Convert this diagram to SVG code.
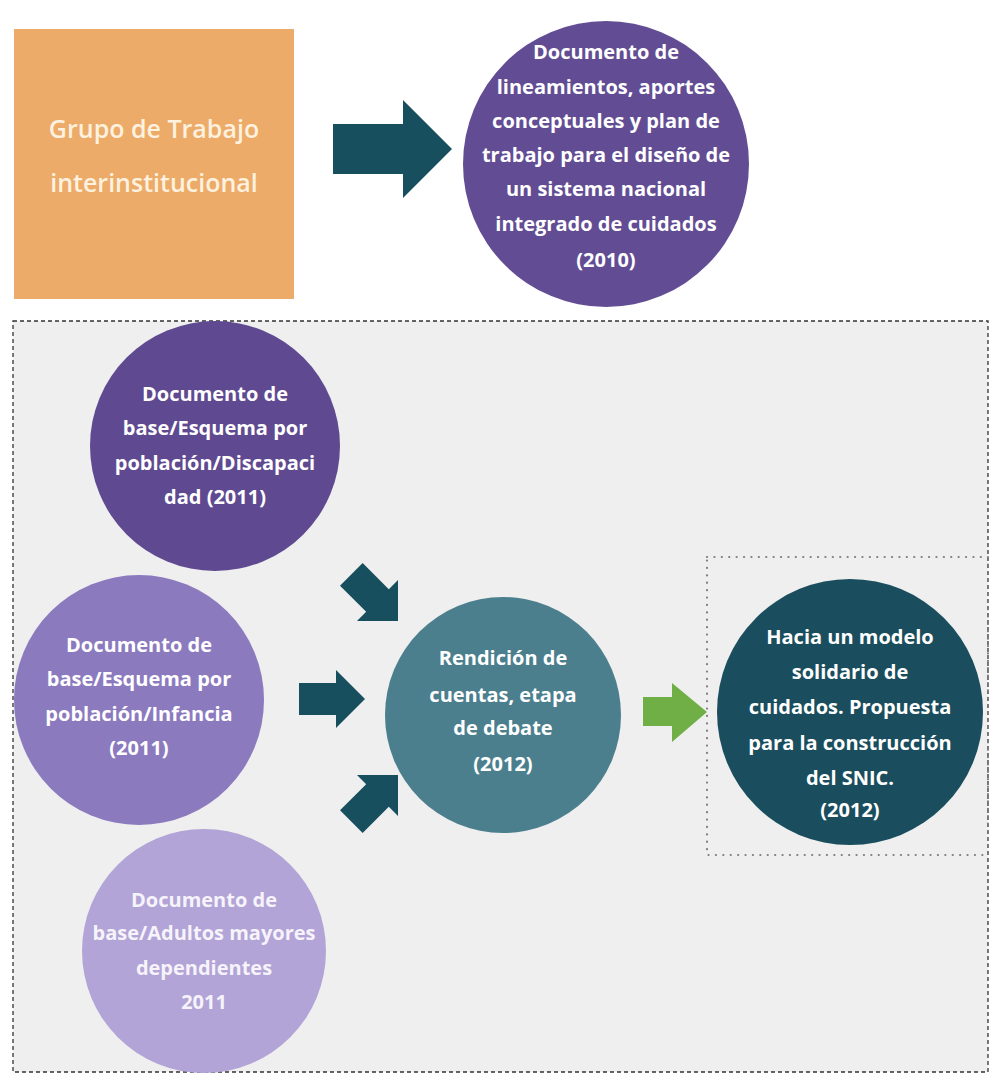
<svg xmlns="http://www.w3.org/2000/svg" width="989" height="1074" viewBox="0 0 989 1074">
<style>
  .t { font-family: "Open Sans", Lato, "Liberation Sans", sans-serif; font-weight: bold; font-size: 20px; text-anchor: middle; fill: #FFFFFF; }
  .big { font-size: 25px; font-weight: 600; fill: #FDF1DF; }
  .pale { fill: #F6F3FB; }
  .arr { fill: #184F5E; }
  .garr { fill: #6FAF46; }
</style>
<defs>
  <path id="ar" d="M -66,-16 L -29,-16 L -29,-29 L 0,0 L -29,29 L -29,16 L -66,16 Z"/>
</defs>
<rect x="0" y="0" width="989" height="1074" fill="#FFFFFF"/>
<g id="frame">
  <rect x="13" y="321" width="975" height="751" fill="#EFEFEF" stroke="#333333" stroke-width="1.3" stroke-dasharray="4,3"/>
  <rect x="707" y="557" width="281" height="298" fill="none" stroke="#7E7E7E" stroke-width="2.2" stroke-dasharray="0.1,7.3" stroke-linecap="round"/>
</g>
<g id="grupo">
  <rect x="14" y="29" width="280" height="270" fill="#EDAB69"/>
  <text class="t big" x="154" y="138">Grupo de Trabajo</text>
  <text class="t big" x="154" y="192">interinstitucional</text>
</g>
<g id="doc2010">
  <circle cx="606" cy="164" r="143" fill="#624D94"/>
  <text class="t" x="606" y="59">Documento de</text>
  <text class="t" x="606" y="94">lineamientos, aportes</text>
  <text class="t" x="606" y="128">conceptuales y plan de</text>
  <text class="t" x="606" y="162">trabajo para el diseño de</text>
  <text class="t" x="606" y="196">un sistema nacional</text>
  <text class="t" x="606" y="231">integrado de cuidados</text>
  <text class="t" x="606" y="267">(2010)</text>
</g>
<g id="discapacidad">
  <circle cx="215" cy="446" r="125" fill="#5F4A91"/>
  <text class="t" x="215" y="401">Documento de</text>
  <text class="t" x="215" y="435">base/Esquema por</text>
  <text class="t" x="215" y="470">población/Discapaci</text>
  <text class="t" x="215" y="504">dad (2011)</text>
</g>
<g id="infancia">
  <circle cx="139" cy="700" r="125" fill="#8C7ABF"/>
  <text class="t" x="139" y="652">Documento de</text>
  <text class="t" x="139" y="686">base/Esquema por</text>
  <text class="t" x="139" y="721">población/Infancia</text>
  <text class="t" x="139" y="755">(2011)</text>
</g>
<g id="adultos">
  <circle cx="204" cy="951" r="122" fill="#B2A4D6"/>
  <text class="t pale" x="204" y="907">Documento de</text>
  <text class="t pale" x="204" y="940">base/Adultos mayores</text>
  <text class="t pale" x="204" y="975">dependientes</text>
  <text class="t pale" x="204" y="1009">2011</text>
</g>
<g id="rendicion">
  <circle cx="503" cy="715" r="118" fill="#4B7F8E"/>
  <text class="t" x="503" y="665">Rendición de</text>
  <text class="t" x="503" y="702">cuentas, etapa</text>
  <text class="t" x="503" y="735">de debate</text>
  <text class="t" x="503" y="771">(2012)</text>
</g>
<g id="modelo">
  <circle cx="850" cy="712" r="133" fill="#1A4E5E"/>
  <text class="t" x="850" y="644">Hacia un modelo</text>
  <text class="t" x="850" y="679">solidario de</text>
  <text class="t" x="850" y="714">cuidados. Propuesta</text>
  <text class="t" x="850" y="750">para la construcción</text>
  <text class="t" x="850" y="785">del SNIC.</text>
  <text class="t" x="850" y="817">(2012)</text>
</g>
<g id="connectors">
  <path class="arr" d="M 333,124 L 403,124 L 403,100 L 452,149 L 403,198 L 403,174 L 333,174 Z"/>
  <use href="#ar" class="arr" transform="translate(398,621) rotate(45)"/>
  <use href="#ar" class="arr" transform="translate(365,699)"/>
  <use href="#ar" class="arr" transform="translate(398,775) rotate(-45)"/>
  <path class="garr" d="M 643,697 L 672,697 L 672,683 L 707,712 L 672,742 L 672,726 L 643,726 Z"/>
</g>
</svg>
